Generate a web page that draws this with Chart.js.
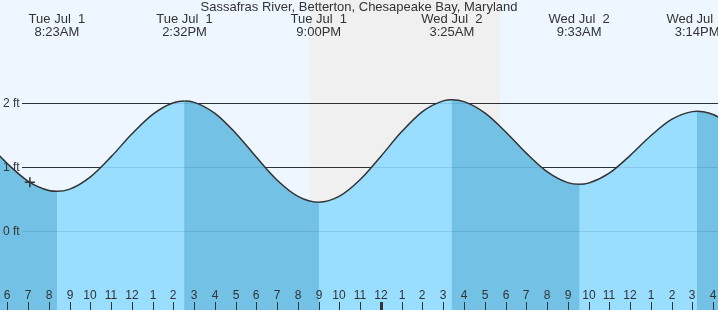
<!DOCTYPE html>
<html>
<head>
<meta charset="utf-8">
<script src="https://cdn.jsdelivr.net/npm/chart.js@4.4.0/dist/chart.umd.min.js"></script>
<style>
  html, body { margin: 0; padding: 0; background: #eef7ff; }
  #wrap { width: 718px; height: 310px; position: relative; }
</style>
</head>
<body>
<div id="wrap"><canvas id="c" width="718" height="310"></canvas></div>
<script>
// ---- data (hours since midnight, Tue Jul 1) ----
const chartTitle = "Sassafras River, Betterton, Chesapeake Bay, Maryland";
const hours = [5.5,6,7,8,8.383,9,10,11,12,13,14,14.533,15,16,17,18,19,20,21,22,23,24,25,26,27,27.417,28,29,30,31,32,33,33.55,34,35,36,37,38,39,39.233,40,40.5];
const levels = [1.215,1.051,0.777,0.633,0.62,0.655,0.847,1.162,1.518,1.823,2.004,2.03,2.010,1.838,1.528,1.151,0.794,0.542,0.45,0.544,0.804,1.169,1.553,1.866,2.033,2.05,2.021,1.845,1.552,1.217,0.928,0.756,0.73,0.748,0.904,1.178,1.488,1.743,1.865,1.87,1.820,1.736];

const extremeHours = [8.383, 14.533, 21.0, 27.417, 33.55, 39.233];
const extremeDates = ["Tue Jul  1","Tue Jul  1","Tue Jul  1","Wed Jul  2","Wed Jul  2","Wed Jul  2"];
const extremeTimes = ["8:23AM","2:32PM","9:00PM","3:25AM","9:33AM","3:14PM"];

const nightStart = [20.58];
const nightEnd = [29.73];

const nowHour = [7.08];
const nowLevel = [0.76];

const yTicks = [2, 1, 0];
const yTickLabels = ["2 ft", "1 ft", "0 ft"];

const hourTicks = [6,7,8,9,10,11,12,13,14,15,16,17,18,19,20,21,22,23,24,25,26,27,28,29,30,31,32,33,34,35,36,37,38,39,40];
const hourLabels = ["6","7","8","9","10","11","12","1","2","3","4","5","6","7","8","9","10","11","12","1","2","3","4","5","6","7","8","9","10","11","12","1","2","3","4"];
const midnightHours = [24];

// ---- styling ----
const BG = "#eef7ff";
const NIGHT = "#f0f0f0";
const FALL = "rgb(115,194,230)";
const RISE = "rgb(153,221,255)";
const CLEAR = "rgba(0,0,0,0)";
const INK = "#333333";
const GRID_IN_WATER = "rgba(0,40,80,0.12)";
const FONT = "'Liberation Sans', Arial, sans-serif";

function gridLine(ctx, y, a, v) {
  const py = Math.round(y.getPixelForValue(v)) + 0.5;
  ctx.beginPath();
  ctx.moveTo(22, py);
  ctx.lineTo(a.right, py);
  ctx.stroke();
}

const decor = {
  id: 'decor',
  beforeDatasetsDraw(chart) {
    const {ctx, chartArea: a, scales: {x, y}} = chart;
    ctx.save();
    ctx.fillStyle = BG;
    ctx.fillRect(0, 0, chart.width, chart.height);
    ctx.fillStyle = NIGHT;
    for (let i = 0; i < nightStart.length; i++) {
      const x0 = x.getPixelForValue(nightStart[i]);
      const x1 = x.getPixelForValue(nightEnd[i]);
      ctx.fillRect(x0, a.top, x1 - x0, a.bottom - a.top);
    }
    ctx.strokeStyle = INK;
    ctx.lineWidth = 1;
    for (const v of yTicks) gridLine(ctx, y, a, v);
    ctx.restore();
  },
  afterDatasetsDraw(chart) {
    const {ctx, chartArea: a, scales: {x, y}} = chart;
    ctx.save();
    // faint grid lines visible through the water
    ctx.strokeStyle = GRID_IN_WATER;
    ctx.lineWidth = 1;
    for (const v of yTicks) gridLine(ctx, y, a, v);

    ctx.fillStyle = INK;
    ctx.textBaseline = 'middle';
    // y labels
    ctx.font = "12px " + FONT;
    ctx.textAlign = 'left';
    yTicks.forEach((v, i) => {
      ctx.fillText(yTickLabels[i], 3, Math.round(y.getPixelForValue(v)) + 1);
    });
    // title
    ctx.font = "13px " + FONT;
    ctx.textAlign = 'center';
    ctx.fillText(chartTitle, 359, 7);
    // extreme labels
    extremeHours.forEach((h, i) => {
      const px = x.getPixelForValue(h);
      ctx.fillText(extremeDates[i], px, 19);
      ctx.fillText(extremeTimes[i], px, 32);
    });
    // hour ticks
    ctx.font = "12px " + FONT;
    hourTicks.forEach((h, i) => {
      const px = Math.round(x.getPixelForValue(h));
      ctx.fillText(hourLabels[i], px, 296);
      const w = midnightHours.includes(h) ? 3 : 1;
      ctx.fillRect(px - Math.floor(w / 2), 302, w, 8);
    });
    ctx.restore();
  }
};

const tidePoints = hours.map((h, i) => ({x: h, y: levels[i]}));

new Chart(document.getElementById('c'), {
  type: 'line',
  data: {
    datasets: [
      {
        data: nowHour.map((h, i) => ({x: h, y: nowLevel[i]})),
        showLine: false,
        pointStyle: 'cross',
        pointRadius: 5,
        pointBorderColor: INK,
        pointBorderWidth: 1.5,
        order: 0
      },
      {
        // rising-tide (light) fill + tide curve
        data: tidePoints,
        borderColor: INK,
        borderWidth: 1.5,
        pointRadius: 0,
        cubicInterpolationMode: 'monotone',
        fill: 'start',
        backgroundColor: CLEAR,
        segment: {
          backgroundColor: c => (c.p1.parsed.y > c.p0.parsed.y ? RISE : CLEAR)
        },
        order: 1
      },
      {
        // base (falling-tide, darker) fill
        data: tidePoints,
        borderWidth: 0,
        borderColor: CLEAR,
        pointRadius: 0,
        cubicInterpolationMode: 'monotone',
        fill: 'start',
        backgroundColor: FALL,
        order: 2
      }
    ]
  },
  options: {
    responsive: false,
    animation: false,
    events: [],
    layout: { padding: 0, autoPadding: false },
    plugins: { legend: { display: false }, title: { display: false }, tooltip: { enabled: false } },
    scales: {
      x: { type: 'linear', min: 5.64, max: 40.24, display: false },
      y: { type: 'linear', min: -1.234, max: 3.609, display: false }
    }
  },
  plugins: [decor]
});
</script>
</body>
</html>
